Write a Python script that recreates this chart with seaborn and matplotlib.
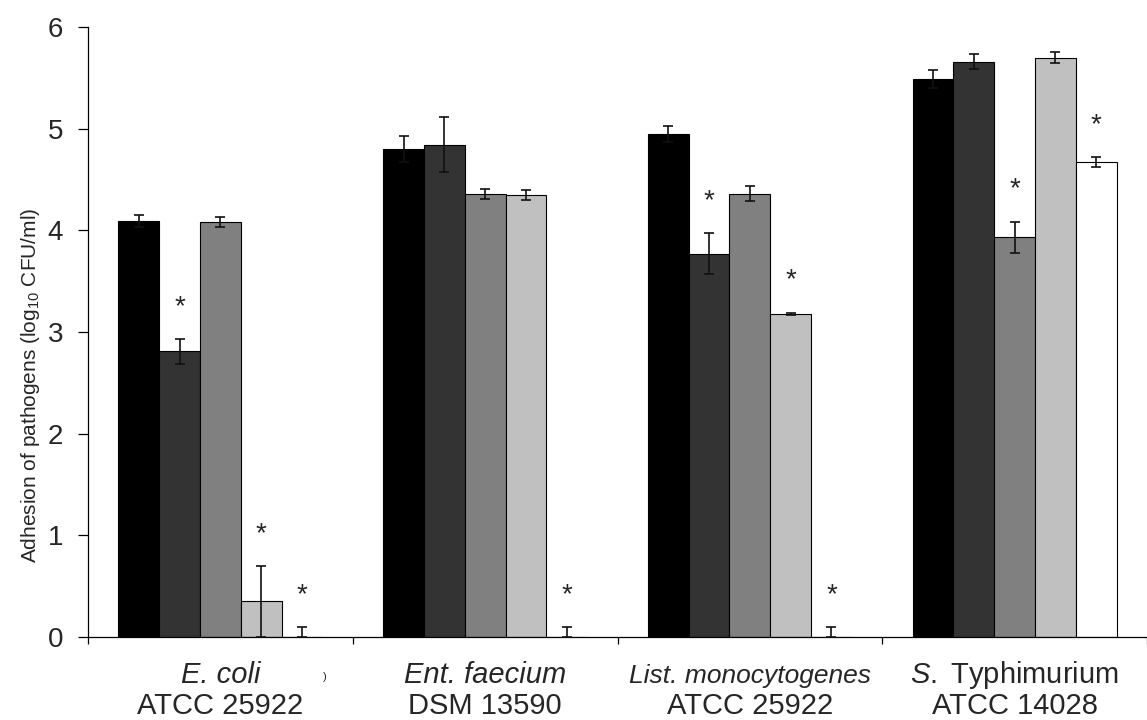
import matplotlib
matplotlib.use("Agg")
import matplotlib.pyplot as plt
import matplotlib.transforms as mtransforms
from matplotlib import font_manager
import numpy as np
import pandas as pd
import seaborn as sns

# ---- data -------------------------------------------------------------
pathogens = ["E. coli", "Ent. faecium", "List. monocytogenes", "S. Typhimurium"]
species_labels = ["E. coli", "Ent. faecium", "List. monocytogenes",
                  r"$\mathit{S.}$ Typhimurium"]
species_italic = [True, True, True, False]
strain_labels = ["ATCC 25922", "DSM 13590", "ATCC 25922", "ATCC 14028"]
treatments = ["T1", "T2", "T3", "T4", "T5"]
bar_colors = ["#000000", "#333333", "#808080", "#c0c0c0", "#ffffff"]

mean_ecoli = [4.09, 2.81, 4.08, 0.35, 0.00]
mean_ent = [4.80, 4.84, 4.36, 4.35, 0.00]
mean_list = [4.95, 3.77, 4.36, 3.18, 0.00]
mean_styph = [5.49, 5.66, 3.93, 5.70, 4.67]

sd_ecoli = [0.06, 0.12, 0.05, 0.35, 0.10]
sd_ent = [0.13, 0.27, 0.05, 0.05, 0.10]
sd_list = [0.08, 0.20, 0.075, 0.01, 0.10]
sd_styph = [0.09, 0.075, 0.155, 0.055, 0.05]

# significant difference markers (1 = asterisk)
sig_ecoli = [0, 1, 0, 1, 1]
sig_ent = [0, 0, 0, 0, 1]
sig_list = [0, 1, 0, 1, 1]
sig_styph = [0, 0, 1, 0, 1]

yticks = [0, 1, 2, 3, 4, 5, 6]

means = [mean_ecoli, mean_ent, mean_list, mean_styph]
sds = [sd_ecoli, sd_ent, sd_list, sd_styph]
sigs = [sig_ecoli, sig_ent, sig_list, sig_styph]

rows = []
for p, mvals in zip(pathogens, means):
    for t, v in zip(treatments, mvals):
        rows.append({"pathogen": p, "treatment": t, "value": v})
df = pd.DataFrame(rows)

# ---- style ------------------------------------------------------------
sns.set_style("white")
plt.rcParams["font.family"] = ["Liberation Sans", "DejaVu Sans"]
plt.rcParams["mathtext.fontset"] = "custom"
plt.rcParams["mathtext.rm"] = "Liberation Sans"
plt.rcParams["mathtext.it"] = "Liberation Sans:italic"
plt.rcParams["mathtext.default"] = "regular"

installed = {f.name for f in font_manager.fontManager.ttflist}
if "Liberation Sans Narrow" in installed:
    ylabel_family, ylabel_size = "Liberation Sans Narrow", 17
else:
    ylabel_family, ylabel_size = "Liberation Sans", 15

W, H = 1147, 720
fig = plt.figure(figsize=(W / 100, H / 100), dpi=100)
ax = fig.add_axes([88 / W, 83 / H, (W - 88) / W, 610 / H])

sns.barplot(data=df, x="pathogen", y="value", hue="treatment",
            order=pathogens, hue_order=treatments, palette=bar_colors,
            saturation=1, width=0.77, gap=0, edgecolor="black",
            linewidth=0.8, errorbar=None, legend=False, ax=ax)

bar_containers = list(ax.containers)

# error bars and asterisks on top of each bar
for i, container in enumerate(bar_containers):
    for j, bar in enumerate(container.patches):
        xc = bar.get_x() + bar.get_width() / 2
        h = bar.get_height()
        e = sds[j][i]
        lower = min(e, h)
        ax.errorbar([xc], [h], yerr=[[lower], [e]], fmt="none",
                    ecolor="#111111", elinewidth=1.2, capsize=3.5,
                    capthick=1.2, zorder=3)
        if sigs[j][i]:
            ax.annotate("*", xy=(xc, h + e), xytext=(0, 18),
                        textcoords="offset points", ha="center",
                        va="baseline", fontsize=20)

# ---- axes -------------------------------------------------------------
ax.set_ylim(0, 6)
ax.set_xlim(-0.5, 3.5 - 10 / 267)
ax.set_yticks(yticks)
ax.set_yticklabels([str(t) for t in yticks], fontsize=20)
ax.tick_params(axis="y", direction="out", length=7, width=0.9, pad=11,
               left=True, color="black")

ax.set_xticks(np.arange(len(pathogens)))
ax.set_xticklabels([])
ax.tick_params(axis="x", which="major", length=0)
ax.set_xticks(np.arange(len(pathogens) + 1) - 0.5, minor=True)
ax.tick_params(axis="x", which="minor", direction="out", length=5,
               width=0.9, bottom=True, color="black")
ax.set_xlabel("")

for side in ["top", "right"]:
    ax.spines[side].set_visible(False)
for side in ["left", "bottom"]:
    ax.spines[side].set_color("black")
    ax.spines[side].set_linewidth(0.9)

# two-line category labels
trans = mtransforms.blended_transform_factory(ax.transData, ax.transAxes)
for k in range(len(pathogens)):
    size1 = 19 if k == 2 else 21
    ax.text(k, -0.0754, species_labels[k], transform=trans, ha="center",
            va="baseline", fontsize=size1,
            style="italic" if species_italic[k] else "normal")
    ax.text(k, -0.126, strain_labels[k], transform=trans, ha="center",
            va="baseline", fontsize=21)
ax.text(0.395, -0.07, ")", transform=trans, ha="center", va="baseline",
        fontsize=8)

ax.set_ylabel("Adhesion of pathogens (log$_{10}$ CFU/ml)",
              fontsize=ylabel_size, family=[ylabel_family, "DejaVu Sans"])
ax.yaxis.set_label_coords(-0.0434, 0.413)

fig.savefig("out.png", dpi=100, facecolor="white")
